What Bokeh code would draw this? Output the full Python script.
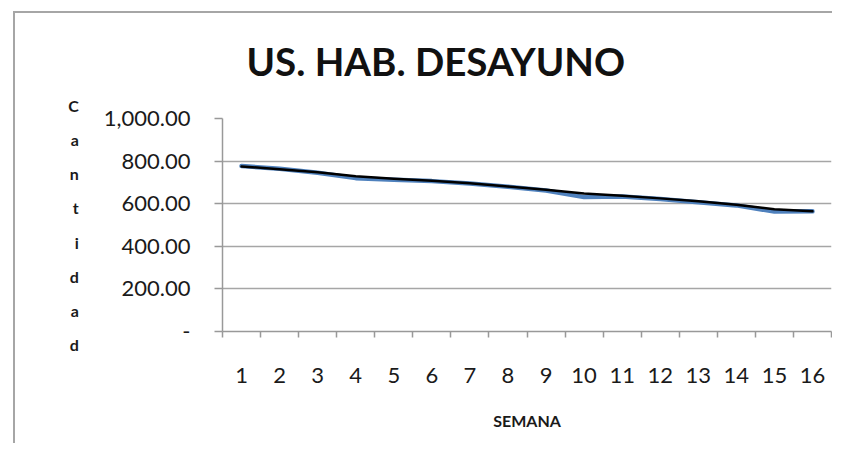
from bokeh.plotting import figure
from bokeh.models import Range1d, FixedTicker, Title, InlineStyleSheet
from bokeh.embed import file_html
from bokeh.resources import INLINE

semanas = list(range(1, 17))
serie = [777, 764, 745, 720, 713, 706, 695, 680, 662, 631, 634, 622, 607, 592, 563, 564]
tendencia = [775, 762, 748, 729, 717, 708, 696, 681, 665, 648, 637, 625, 611, 595, 574, 565]
y_ticks = [0, 200, 400, 600, 800, 1000]
y_tick_labels = ["-", "200.00", "400.00", "600.00", "800.00", "1,000.00"]
title_text = "US. HAB. DESAYUNO"
x_title = "SEMANA"
y_title = "Cantidad"

p = figure(width=832, height=443, output_backend="svg", toolbar_location=None,
           x_range=Range1d(0.5, 16.5), y_range=Range1d(0, 1000),
           min_border_left=222, min_border_right=1, min_border_top=117, min_border_bottom=112)
p.outline_line_color = None
p.background_fill_color = "white"
p.border_fill_color = None
# chart-area border drawn as the element's background (behind the transparent canvas)
p.stylesheets = [InlineStyleSheet(css=(
    ":host { background-color: #ffffff; "
    "background-image: linear-gradient(#a6a6a6, #a6a6a6), linear-gradient(#a6a6a6, #a6a6a6); "
    "background-position: 13px 11px, 13px 11px; "
    "background-size: 2px 432px, 819px 2px; "
    "background-repeat: no-repeat, no-repeat; }"))]

p.line(semanas, serie, line_color="#4F81BD", line_width=4.5, line_join="round", line_cap="round")
p.line(semanas, tendencia, line_color="#000000", line_width=2.5, line_join="round", line_cap="round")

font = "Lato"
xa = p.xaxis[0]
xa.ticker = FixedTicker(ticks=semanas, minor_ticks=[s - 0.5 for s in semanas] + [16.5])
xa.major_tick_out = 0
xa.major_tick_in = 0
xa.minor_tick_out = 6
xa.minor_tick_in = 0
xa.minor_tick_line_color = "#999999"
xa.minor_tick_line_width = 1.5
xa.axis_line_color = "#999999"
xa.axis_line_width = 1.5
xa.major_label_standoff = 30
xa.major_label_text_font = font
xa.major_label_text_font_size = "22px"
xa.major_label_text_color = "#1a1a1a"
xa.axis_label = x_title
xa.axis_label_text_font = font
xa.axis_label_text_font_style = "bold"
xa.axis_label_text_font_size = "16px"
xa.axis_label_text_color = "#1a1a1a"
xa.axis_label_standoff = 25

ya = p.yaxis[0]
ya.ticker = FixedTicker(ticks=y_ticks, minor_ticks=[])
ya.major_label_overrides = {t: l for t, l in zip(y_ticks, y_tick_labels)}
ya.major_tick_out = 8
ya.major_tick_in = 0
ya.major_tick_line_color = "#999999"
ya.major_tick_line_width = 1.5
ya.minor_tick_out = 0
ya.minor_tick_in = 0
ya.axis_line_color = "#999999"
ya.axis_line_width = 1.5
ya.major_label_standoff = 24
ya.major_label_text_font = font
ya.major_label_text_font_size = "22px"
ya.major_label_text_color = "#1a1a1a"
ya.axis_label = "\n".join(y_title)
ya.axis_label_orientation = "horizontal"
ya.axis_label_text_font = font
ya.axis_label_text_font_style = "bold"
ya.axis_label_text_font_size = "16px"
ya.axis_label_text_line_height = 1.8
ya.axis_label_text_color = "#1a1a1a"
ya.axis_label_standoff = 22

p.xgrid.grid_line_color = None
p.ygrid.ticker = FixedTicker(ticks=y_ticks)
p.ygrid.grid_line_color = "#a6a6a6"
p.ygrid.grid_line_width = 1.5

p.add_layout(Title(text=title_text, align="left", offset=24, standoff=70,
                   text_font=font, text_font_style="bold", text_font_size="38.5px",
                   text_color="#111111"), "above")

open("out.html", "w").write(file_html(p, INLINE))
